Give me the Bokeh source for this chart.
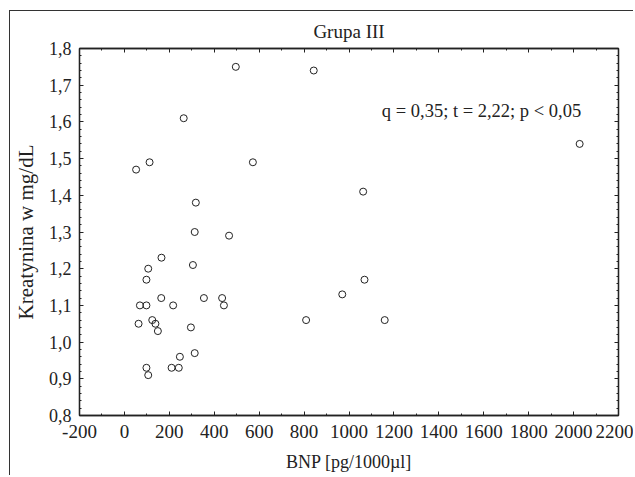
from bokeh.plotting import figure
from bokeh.models import (FixedTicker, LinearAxis, CustomJSTickFormatter, Label, Range1d)
from bokeh.embed import file_html
from bokeh.resources import INLINE

# Data
bnp = [52, 112, 264, 496, 843, 572, 2027, 1063, 318, 313, 466, 165, 305, 106, 98,
       1069, 970, 164, 354, 435, 443, 69, 98, 217, 63, 124, 138, 149, 296, 809,
       1159, 313, 247, 210, 242, 98, 106]
kreatynina = [1.47, 1.49, 1.61, 1.75, 1.74, 1.49, 1.54, 1.41, 1.38, 1.30, 1.29, 1.23,
              1.21, 1.20, 1.17, 1.17, 1.13, 1.12, 1.12, 1.12, 1.10, 1.10, 1.10, 1.10,
              1.05, 1.06, 1.05, 1.03, 1.04, 1.06, 1.06, 0.97, 0.96, 0.93, 0.93, 0.93,
              0.91]
x_ticks = [-200, 0, 200, 400, 600, 800, 1000, 1200, 1400, 1600, 1800, 2000, 2200]
y_ticks = [0.8, 0.9, 1.0, 1.1, 1.2, 1.3, 1.4, 1.5, 1.6, 1.7, 1.8]
title_text = "Grupa III"
x_label = "BNP [pg/1000\u00b5l]"
y_label = "Kreatynina w mg/dL"
stat_text = "q = 0,35; t = 2,22; p < 0,05"

FONT = "Liberation Serif"
INK = "#222222"

x_minor = [x_ticks[0] + 100 * i for i in range(int((x_ticks[-1] - x_ticks[0]) / 100) + 1)]
y_minor = [round(y_ticks[0] + 0.02 * i, 2) for i in range(int(round((y_ticks[-1] - y_ticks[0]) / 0.02)) + 1)]

p = figure(width=624, height=465, output_backend="svg", toolbar_location=None,
           x_range=Range1d(x_ticks[0], x_ticks[-1]), y_range=Range1d(y_ticks[0], y_ticks[-1]),
           min_border_left=69, min_border_top=36, min_border_right=16, min_border_bottom=61,
           x_axis_type=None, y_axis_type=None, title=title_text)

p.title.text_font = FONT
p.title.text_font_size = "19px"
p.title.text_font_style = "normal"
p.title.align = "center"
p.title.text_color = INK
p.title.standoff = 14
p.outline_line_color = INK
p.outline_line_width = 1.3
p.xgrid.visible = False
p.ygrid.visible = False
p.background_fill_color = "white"
p.border_fill_color = "white"
p.styles = {"margin-left": "9px", "margin-top": "10px",
            "border-top": "1px solid #333333", "border-left": "1px solid #333333"}

yfmt = CustomJSTickFormatter(code="return tick.toFixed(1).replace('.', ',');")
xfmt = CustomJSTickFormatter(code="return tick.toFixed(0);")


def style_axis(ax, size="18px", labels=True):
    ax.axis_line_color = INK
    ax.axis_line_width = 1.3
    ax.major_tick_in = 4
    ax.major_tick_out = 0
    ax.minor_tick_in = 2
    ax.minor_tick_out = 0
    ax.major_tick_line_color = INK
    ax.minor_tick_line_color = INK
    ax.major_label_text_font = FONT
    ax.major_label_text_font_size = size if labels else "0px"
    ax.major_label_text_color = INK
    ax.axis_label_text_font = FONT
    ax.axis_label_text_font_size = "18px"
    ax.axis_label_text_font_style = "normal"
    ax.axis_label_text_color = INK


xb = LinearAxis(ticker=FixedTicker(ticks=x_ticks, minor_ticks=x_minor), formatter=xfmt,
                axis_label=x_label)
style_axis(xb, size="19px")
xb.major_label_standoff = 9
xb.axis_label_standoff = 11
p.add_layout(xb, "below")

xt = LinearAxis(ticker=FixedTicker(ticks=x_ticks, minor_ticks=x_minor), formatter=xfmt)
style_axis(xt, labels=False)
xt.major_label_standoff = 0
p.add_layout(xt, "above")

yl = LinearAxis(ticker=FixedTicker(ticks=y_ticks, minor_ticks=y_minor), formatter=yfmt,
                axis_label=y_label)
style_axis(yl, size="18px")
yl.axis_label_text_font_size = "21px"
yl.major_label_standoff = 8
yl.axis_label_standoff = 8
p.add_layout(yl, "left")

yr = LinearAxis(ticker=FixedTicker(ticks=y_ticks, minor_ticks=y_minor), formatter=yfmt)
style_axis(yr, labels=False)
yr.major_label_standoff = 0
p.add_layout(yr, "right")

p.scatter(bnp, kreatynina, marker="circle", size=7, fill_color=None,
          line_color=INK, line_width=1)

p.add_layout(Label(x=1590, y=1.629, text=stat_text, text_align="center",
                   text_baseline="alphabetic", text_font=FONT, text_font_size="18.5px",
                   text_color=INK))

open("out.html", "w").write(file_html(p, INLINE))
